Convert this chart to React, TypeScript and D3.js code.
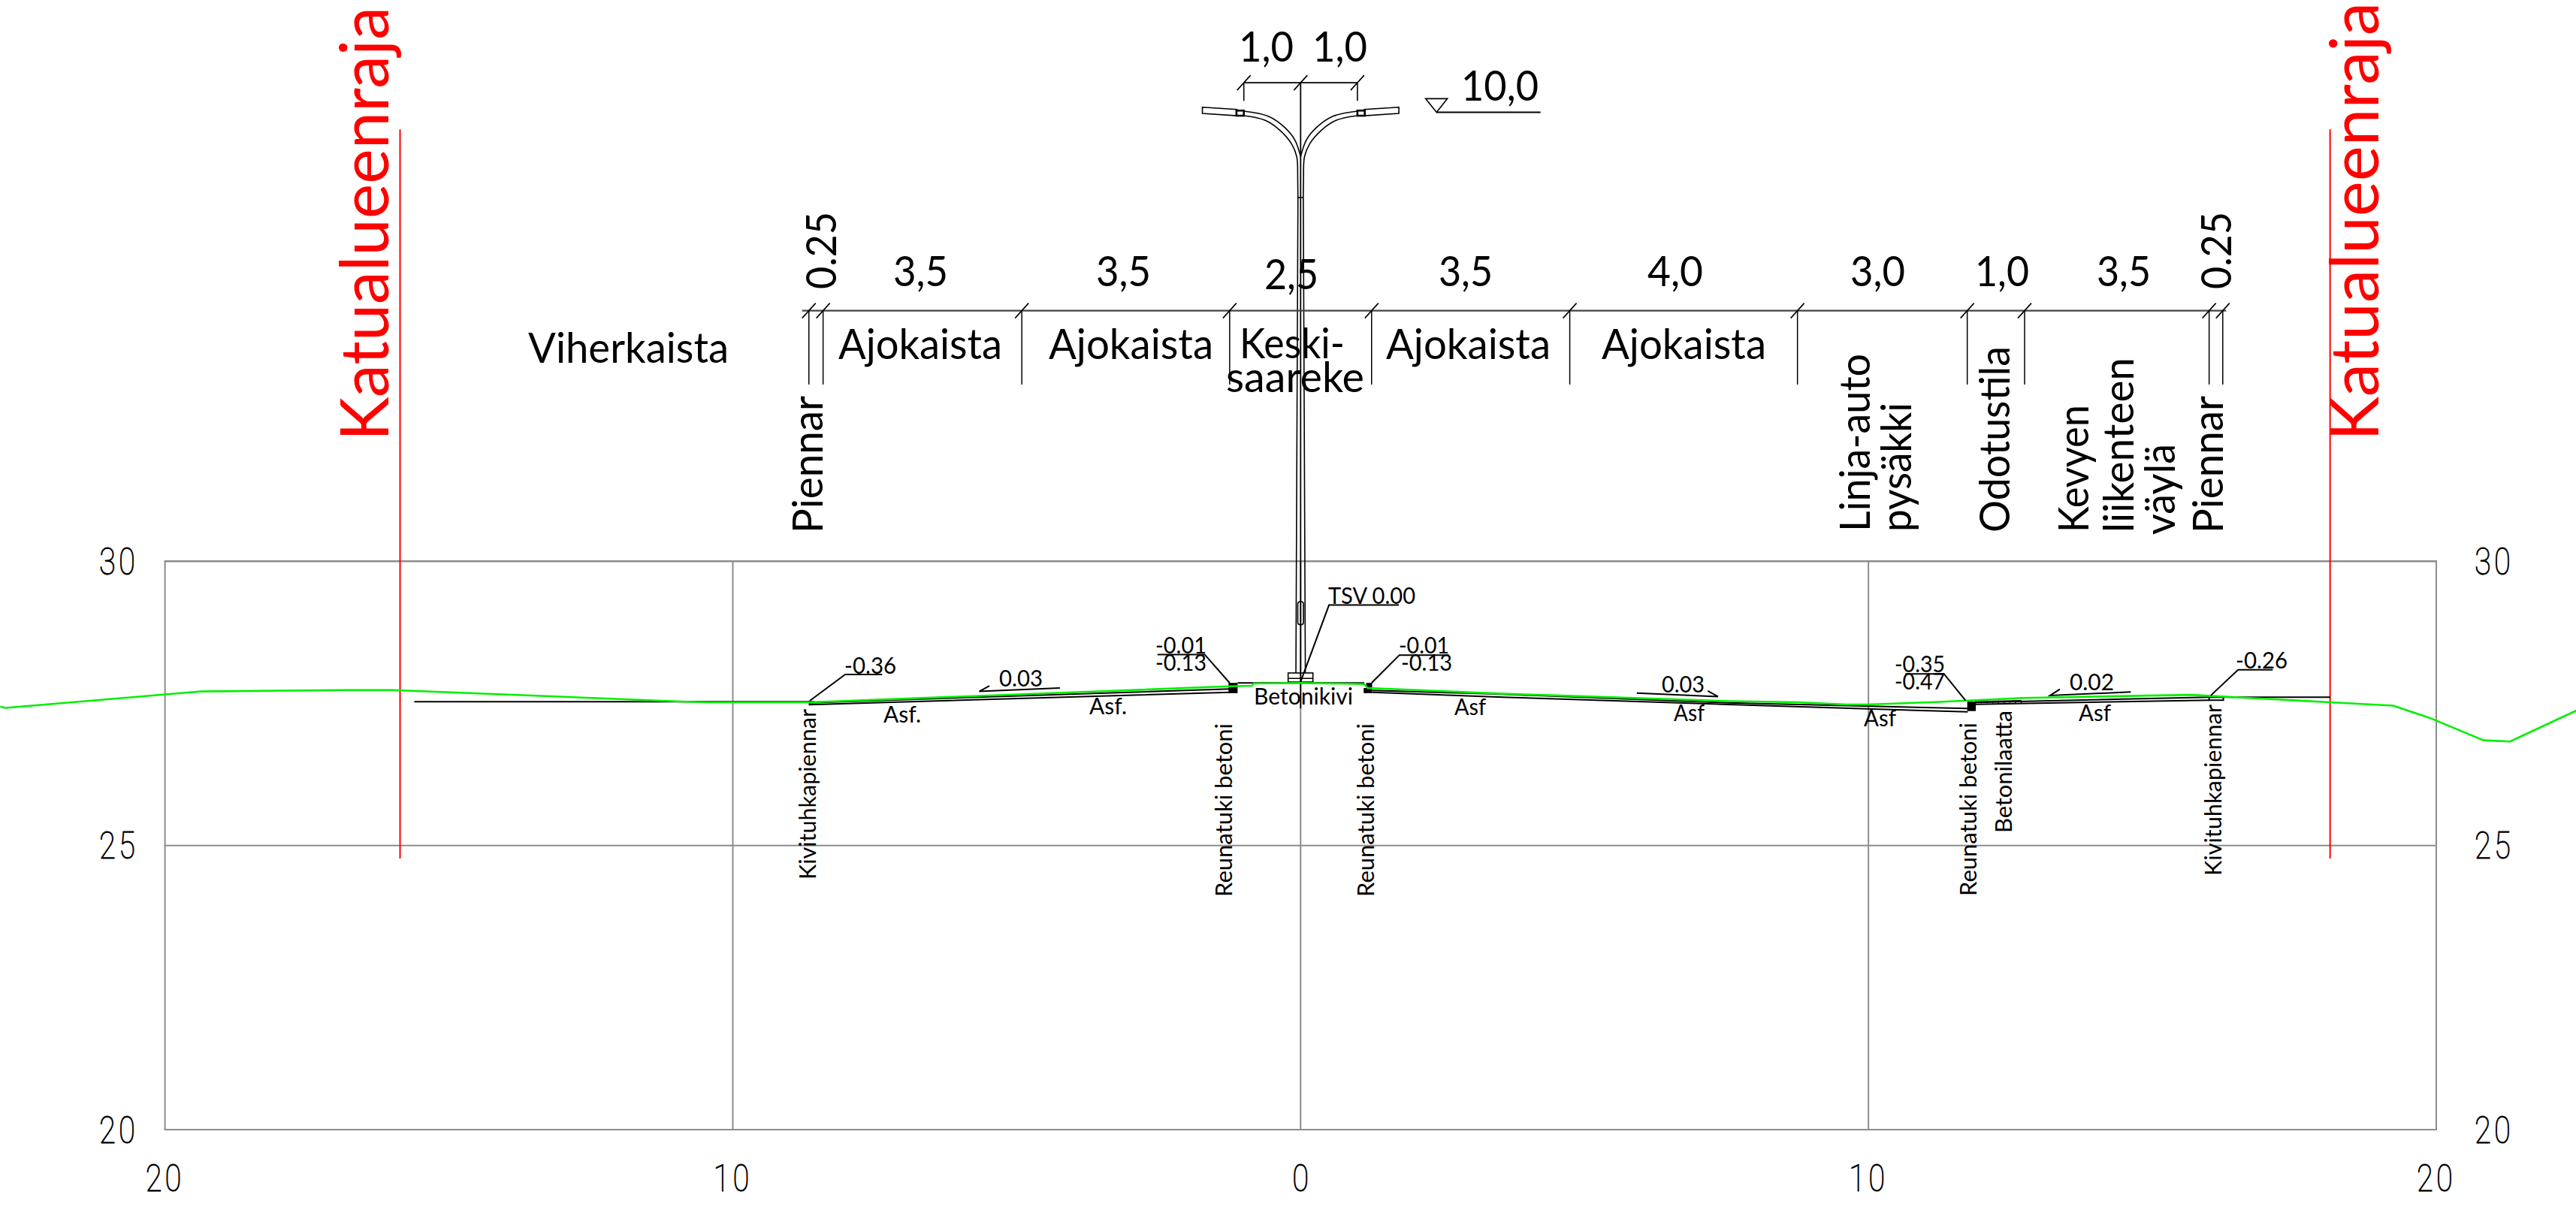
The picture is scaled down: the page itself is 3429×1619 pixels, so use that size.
import React from "react";
import * as d3 from "d3";

// ---------- data (metres: station, elevation) ----------
const stationTicks = [-20, -10, 0, 10, 20];
const stationTickLabels = ["20", "10", "0", "10", "20"];
const elevationTicks = [30, 25, 20];
type P = [number, number];

const terrain: P[] = [
  [-22.9, 27.445], [-22.81, 27.42], [-19.37, 27.71], [-16.87, 27.735], [-15.99, 27.735], [-10.83, 27.53],
  [-10.42, 27.52], [-8.64, 27.52], [-3.05, 27.73], [-1.27, 27.8], [-0.85, 27.81], [-0.83, 27.85], [-0.01, 27.86],
  [1.12, 27.84], [1.18, 27.77], [3.56, 27.67], [7.53, 27.54], [8.75, 27.52], [9.62, 27.48], [9.97, 27.48],
  [11.1, 27.52], [11.75, 27.55], [12.73, 27.595], [15.67, 27.65], [16.04, 27.63], [18.13, 27.52], [19.24, 27.46],
  [19.87, 27.25], [20.83, 26.85], [21.3, 26.83], [22.47, 27.375],
];
const roadSurfaces: P[][] = [
  [[-8.65, 27.51], [-1.24, 27.754]],
  [[-8.65, 27.55], [-8.65, 27.476], [-1.24, 27.696]],
  [[1.26, 27.727], [3.56, 27.66], [7.53, 27.51], [11.75, 27.41]],
  [[1.26, 27.696], [3.56, 27.61], [7.53, 27.48], [11.75, 27.35]],
  [[11.89, 27.516], [16.0, 27.61]],
  [[11.89, 27.484], [16.0, 27.556]],
  [[-15.61, 27.53], [-8.56, 27.53]],
  [[16.0, 27.61], [18.13, 27.61]],
  [[-1.11, 27.86], [1.12, 27.86]],
];
// s0, s1, e0, e1
const kerbs = [
  [-1.27, -1.11, 27.86, 27.68],
  [1.11, 1.26, 27.77, 27.68],
  [1.155, 1.26, 27.86, 27.77],
  [11.74, 11.89, 27.53, 27.365],
];
const shoulderBox = [16.0, 16.25, 27.61, 27.556];
const slabHatch = [11.89, 11.99, 12.09, 12.19, 12.29, 12.39, 12.49, 12.59, 12.69];
const slabTop: P[] = [[11.89, 27.53], [12.69, 27.55]];
const propertyLines = [-15.86, 18.13];
const propertyLineEnds = [37.6, 24.77];

const dimStations = [-8.66, -8.41, -4.91, -1.25, 1.25, 4.74, 8.75, 11.74, 12.75, 16.0, 16.24];
const dimEnds = [-8.78, 16.3];
const dimElev = 34.41;
const dimTickElev = 33.11;
const armDimStations = [-1, 0, 1];
const armDimElev = 38.42;
const armDimTickElev = 38.1;
const poleCentreEnd = 27.41;

const armUpper: P[] = [[-1.0, 37.92], [-0.57, 37.83], [-0.277, 37.63], [-0.1, 37.41], [0, 37.12]];
const armLower: P[] = [[-1.0, 37.84], [-0.63, 37.76], [-0.367, 37.585], [-0.157, 37.34], [-0.069, 37.12], [-0.052, 36.835]];
const shaft: P[] = [[-0.052, 36.835], [-0.047, 36.4], [-0.083, 28.035]];
const lamp: P[] = [[-1.73, 37.99], [-1.12, 37.95], [-1.12, 37.84], [-1.73, 37.88]];
const lampNeck = [-1.13, -1.0, 37.93, 37.84];
const shaftJoint = [-0.047, 36.4];
const handhole = [-0.05, 0.05, 29.29, 28.885];
const basePlate = [-0.22, 0.217, 28.035, 27.876];
const basePlateLine = 27.94;
const lightMarker: P[] = [[2.2, 38.14], [2.585, 38.14], [2.394, 37.9]];
const lightMarkerLine: P[] = [[2.394, 37.9], [4.225, 37.9]];

const leaders: P[][] = [
  [[0, 27.88], [0.5, 29.23], [1.73, 29.23]],
  [[-2.52, 28.36], [-1.69, 28.36], [-1.25, 27.86]],
  [[1.25, 27.86], [1.74, 28.35], [2.61, 28.35]],
  [[-8.64, 27.55], [-8.02, 28.01], [-7.37, 28.01]],
  [[10.65, 28.02], [11.33, 28.02], [11.71, 27.55]],
  [[16.03, 27.64], [16.51, 28.09], [17.12, 28.09]],
  [[-5.48, 27.81], [-5.66, 27.71], [-4.24, 27.77]],
  [[5.92, 27.68], [7.35, 27.62], [7.17, 27.72]],
  [[13.37, 27.75], [13.2, 27.64], [14.62, 27.7]],
];

// ---------- layout of the text ----------
type L = [string, number, number, number, number];
// text, left x, baseline y, drawn length, font size
const horizontalLabels: L[] = [
  ["1,0", 1649, 82, 73, 56], ["1,0", 1747, 82, 73, 56], ["10,0", 1945, 134, 103, 56],
  ["3,5", 1189, 381, 73, 56], ["3,5", 1459, 381, 73, 56], ["2,5", 1683, 385, 72, 56],
  ["3,5", 1915, 381, 72, 56], ["4,0", 2193, 381, 74, 56], ["3,0", 2463, 381, 73, 56],
  ["1,0", 2629, 381, 72, 56], ["3,5", 2791, 381, 72, 56],
  ["Viherkaista", 703, 483, 267, 56], ["Ajokaista", 1116, 478, 218, 56], ["Ajokaista", 1396, 478, 219, 56],
  ["Keski-", 1650, 477, 140, 56], ["saareke", 1632, 522, 184, 56],
  ["Ajokaista", 1845, 478, 219, 56], ["Ajokaista", 2132, 478, 219, 56],
  ["TSV 0.00", 1768, 804, 116, 31], ["-0.01", 1538, 870, 68, 31], ["-0.13", 1538, 893, 68, 31],
  ["-0.01", 1862, 870, 67, 31], ["-0.13", 1865, 893, 68, 31], ["-0.36", 1124, 897, 69, 31],
  ["0.03", 1330, 914, 58, 31], ["0.03", 2212, 922, 57, 31], ["0.02", 2755, 919, 59, 31],
  ["-0.35", 2522, 895, 67, 31], ["-0.47", 2522, 918, 67, 31], ["-0.26", 2976, 890, 69, 31],
  ["Asf.", 1176, 962, 50, 31], ["Asf.", 1450, 951, 50, 31], ["Betonikivi", 1669, 938, 132, 31],
  ["Asf", 1936, 952, 42, 31], ["Asf", 2228, 960, 41, 31], ["Asf", 2481, 967, 43, 31], ["Asf", 2767, 960, 43, 31],
];
// text, baseline x, start y (bottom), drawn length, font size
const rotatedLabels: L[] = [
  ["0.25", 1113, 385, 103, 56], ["0.25", 2970, 385, 103, 56],
  ["Piennar", 1095, 710, 183, 56], ["Piennar", 2959, 710, 183, 56],
  ["Linja-auto", 2489, 708, 237, 56], ["pysäkki", 2544, 708, 172, 56], ["Odotustila", 2675, 709, 248, 56],
  ["Kevyen", 2780, 709, 170, 56], ["liikenteen", 2840, 709, 233, 56], ["väylä", 2895, 712, 121, 56],
  ["Kivituhkapiennar", 1086, 1171, 227, 31], ["Reunatuki betoni", 1640, 1194, 231, 31],
  ["Reunatuki betoni", 1829, 1194, 231, 31], ["Reunatuki betoni", 2631, 1193, 231, 31],
  ["Betonilaatta", 2678, 1109, 163, 31], ["Kivituhkapiennar", 2957, 1166, 228, 31],
];
const boundaryLabels: L[] = [
  ["Katualueenraja", 517, 587, 578, 90],
  ["Katualueenraja", 3166, 587, 584, 90],
];

// ---------- scales ----------
const W = 3429;
const H = 1619;
const x = d3.scaleLinear().domain([-20, 20]).range([219.6, 3243]);
const y = d3.scaleLinear().domain([30, 20]).range([747.3, 1504]);
const line = d3.line<P>().x((d) => x(d[0])).y((d) => y(d[1]));
const smooth = d3.line<P>().x((d) => x(d[0])).y((d) => y(d[1])).curve(d3.curveCatmullRom);
const mirror = (pts: P[]): P[] => pts.map(([s, e]) => [-s, e] as P);
const FONT = "Lato, sans-serif";
const Box = ({ b, ...rest }: any) => (
  <rect x={x(b[0])} y={y(b[2])} width={x(b[1]) - x(b[0])} height={y(b[3]) - y(b[2])} {...rest} />
);

const Slash = ({ cx, cy }: { cx: number; cy: number }) => (
  <line x1={cx - 9} y1={cy + 10} x2={cx + 9} y2={cy - 10} stroke="#000" strokeWidth={1.6} />
);

const AxisNum = ({ cx, by, t }: { cx: number; by: number; t: string }) => (
  <text transform={`translate(${cx},${by}) scale(0.8,1)`} textAnchor="middle" letterSpacing={t.length > 1 ? 5 : 0}>{t}</text>
);

export default function App() {
  const pen = { fill: "none", stroke: "#000", strokeWidth: 1.6 };
  return (
    <svg width={W} height={H} viewBox={`0 0 ${W} ${H}`} style={{ position: "absolute", left: 0, top: 0, background: "#fff", display: "block" }}>
      {/* grid */}
      <g stroke="#8c8c8c" strokeWidth={2}>
        {stationTicks.map((t) => <line key={t} x1={x(t)} x2={x(t)} y1={y(30)} y2={y(20)} />)}
        {elevationTicks.map((t) => <line key={t} x1={x(-20) - 1} x2={x(20) + 1} y1={y(t)} y2={y(t)} strokeWidth={t === 30 ? 2.6 : 2} />)}
      </g>
      {/* axis labels */}
      <g fontFamily="Roboto, sans-serif" fontWeight={100} fontSize={50} fill="#000" stroke="#000" strokeWidth={1}>
        {stationTicks.map((t, i) => (
          <AxisNum key={t} cx={x(t)} by={1586} t={stationTickLabels[i]} />
        ))}
        {elevationTicks.map((t) => (
          <g key={t}>
            <AxisNum cx={158} by={y(t) + 17.5} t={String(t)} />
            <AxisNum cx={3320} by={y(t) + 17.5} t={String(t)} />
          </g>
        ))}
      </g>
      {/* property boundaries */}
      {propertyLines.map((s) => (
        <line key={s} x1={x(s)} x2={x(s)} y1={y(propertyLineEnds[0])} y2={y(propertyLineEnds[1])} stroke="#f00" strokeWidth={2} />
      ))}
      {/* pole */}
      <g {...pen}>
        {[1, -1].map((m) => {
          const f = (p: P[]) => (m === 1 ? p : mirror(p));
          return (
            <g key={m}>
              <path d={smooth(f(armUpper)) as string} />
              <path d={smooth(f(armLower)) as string} />
              <path d={line(f(shaft)) as string} />
              <path d={(line(f(lamp)) as string) + "Z"} fill="#fff" />
              <rect
                x={Math.min(x(m * lampNeck[0]), x(m * lampNeck[1]))}
                y={y(lampNeck[2])}
                width={Math.abs(x(lampNeck[1]) - x(lampNeck[0]))}
                height={y(lampNeck[3]) - y(lampNeck[2])}
                strokeWidth={2.6}
                fill="#fff"
              />
            </g>
          );
        })}
        <line x1={x(-shaftJoint[0])} x2={x(shaftJoint[0])} y1={y(shaftJoint[1])} y2={y(shaftJoint[1])} />
        <line x1={x(0)} x2={x(0)} y1={y(armDimElev)} y2={y(poleCentreEnd)} strokeWidth={1.8} />
        <Box b={handhole} rx={3} />
        <Box b={basePlate} />
        <line x1={x(basePlate[0])} x2={x(basePlate[1])} y1={y(basePlateLine)} y2={y(basePlateLine)} />
      </g>
      {/* road */}
      <g fill="none" stroke="#000" strokeWidth={2}>
        {roadSurfaces.map((r, i) => <path key={i} d={line(r) as string} />)}
        <Box b={shoulderBox} />
        <path d={line(slabTop) as string} strokeWidth={1.4} />
        {slabHatch.map((s) => (
          <line key={s} x1={x(s)} x2={x(s)} y1={y(27.55)} y2={y(27.5)} strokeWidth={1.2} />
        ))}
      </g>
      {kerbs.map((b, i) => <Box key={i} b={b} fill="#000" />)}
      {/* terrain */}
      <path d={line(terrain) as string} fill="none" stroke="#00f000" strokeWidth={2.6} />
      {/* leaders */}
      <g {...pen}>
        {leaders.map((l, i) => <path key={i} d={line(l) as string} strokeWidth={2} />)}
        <path d={(line(lightMarker) as string) + "Z"} />
        <path d={line(lightMarkerLine) as string} strokeWidth={2} />
      </g>
      {/* dimension chains */}
      <line x1={x(dimEnds[0])} x2={x(dimEnds[1])} y1={y(dimElev)} y2={y(dimElev)} stroke="#444" strokeWidth={2.4} />
      {dimStations.map((s) => (
        <g key={s}>
          <line x1={x(s)} x2={x(s)} y1={y(dimElev)} y2={y(dimTickElev)} stroke="#000" strokeWidth={1.5} />
          <Slash cx={x(s)} cy={y(dimElev)} />
        </g>
      ))}
      <line x1={x(armDimStations[0])} x2={x(armDimStations[2])} y1={y(armDimElev)} y2={y(armDimElev)} stroke="#000" strokeWidth={1.8} />
      {armDimStations.map((s) => (
        <g key={s}>
          {s !== 0 && <line x1={x(s)} x2={x(s)} y1={y(armDimElev)} y2={y(armDimTickElev)} stroke="#000" strokeWidth={1.6} />}
          <Slash cx={x(s)} cy={y(armDimElev)} />
        </g>
      ))}
      {/* text */}
      <g fontFamily={FONT} fill="#000">
        {horizontalLabels.map(([t, tx, ty, len, size], i) => (
          <text key={i} x={tx} y={ty} fontSize={size} textLength={len} lengthAdjust="spacingAndGlyphs">{t}</text>
        ))}
        {rotatedLabels.map(([t, tx, ty, len, size], i) => (
          <text key={i} transform={`translate(${tx},${ty}) rotate(-90)`} fontSize={size} textLength={len} lengthAdjust="spacingAndGlyphs">{t}</text>
        ))}
        {boundaryLabels.map(([t, tx, ty, len, size], i) => (
          <text key={i} transform={`translate(${tx},${ty}) rotate(-90)`} fontSize={size} fill="#f00" textLength={len} lengthAdjust="spacingAndGlyphs">{t}</text>
        ))}
      </g>
    </svg>
  );
}
